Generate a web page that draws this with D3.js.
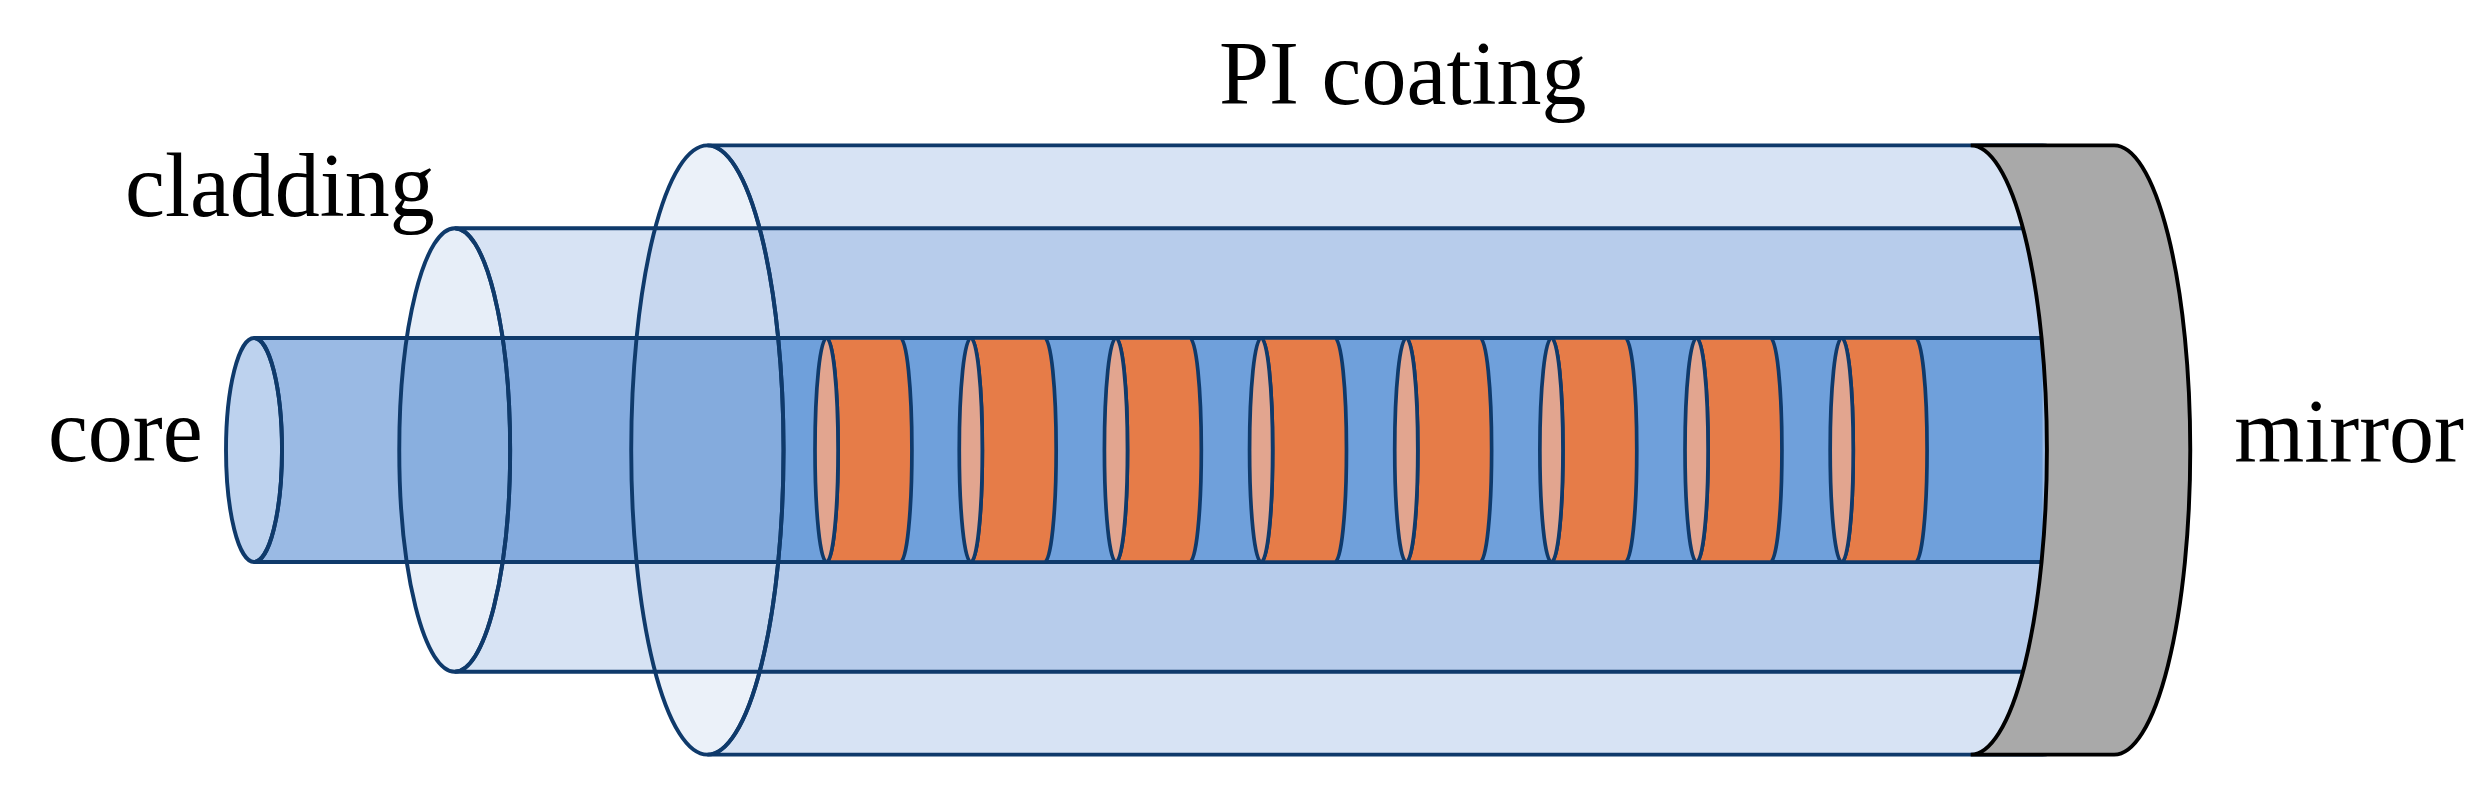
<!DOCTYPE html>
<html>
<head>
<meta charset="utf-8">
<title>Fiber cross section</title>
<script src="https://cdn.jsdelivr.net/npm/d3@7"></script>
<style>
  html, body { margin: 0; padding: 0; background: #fff; }
  svg { display: block; }
  text { font-family: "Liberation Serif", serif; font-size: 90px; fill: #000; }
</style>
</head>
<body>
<div id="chart"></div>
<script>
// axial positions run 0-100 along the fibre, radii are in core radii
var layerNames = ['core', 'cladding', 'coating'],
    layerStart = [0, 11.2, 25.3],
    layerRadius = [1, 1.98, 2.72],
    gratingStart = [31.95, 40, 48.1, 56.2, 64.3, 72.4, 80.5, 88.6],
    gratingLength = [4.12, 4.12, 4.12, 4.12, 4.12, 4.12, 4.12, 4.12],
    mirrorStart = [95.8],
    mirrorEnd = [103.8],
    labelText = ['core', 'cladding', 'PI coating', 'mirror'],
    labelAxial = [-11.5, -7.2, 53.85, 110.5],
    labelRadial = [-0.1, 2.09, 3.09, -0.11];

var width = 2491,
    height = 797,
    tilt = 0.25,         // ellipse width / height of the cut faces
    gratingTilt = 0.103,
    navy = '#0f3a6b',
    layerColor = 'rgb(55,115,200)',
    xScale = d3.scaleLinear().domain([0, 100]).range([254, 2046]),
    yScale = d3.scaleLinear().domain([-1, 1]).range([562, 338]);

var bodyAlpha = {cladding: 0.2, coating: 0.2},
    faceAlpha = {cladding: 0.12, coating: 0.1},
    // what each layer looks like where it passes over the core
    coreBody = {core: '#9abae4', cladding: '#84abde', coating: '#6fa0db'},
    coreFace = {core: '#bdd2ee', cladding: '#89afdf', coating: '#84abdd'};

var layers = layerNames.map(function(name, i) {
  return {name: name, start: layerStart[i], r: layerRadius[i]};
});
var gratings = gratingStart.map(function(s, i) {
  return {start: s, len: gratingLength[i]};
});

var svg = d3.select('#chart').append('svg')
    .attr('width', width)
    .attr('height', height);

// half height of a cut face, in pixels
function ry(r) { return yScale(0) - yScale(r); }

// side of a can: from the top of its face to the end, back under the face
function canPath(start, end, r, tiltAmount) {
  var x0 = xScale(start), x1 = xScale(end),
      a = ry(r) * tiltAmount, b = ry(r),
      top = yScale(r), bot = yScale(-r);
  return 'M' + x0 + ',' + top + 'H' + x1 +
         'A' + a + ',' + b + ' 0 0 1 ' + x1 + ',' + bot +
         'H' + x0 +
         'A' + a + ',' + b + ' 0 0 0 ' + x0 + ',' + top + 'Z';
}

function layerEnd() { return mirrorStart[0] + 4; }

function appendFace(sel, d) {
  return sel.append('ellipse')
      .attr('cx', xScale(d.start))
      .attr('cy', yScale(0))
      .attr('rx', ry(d.r) * tilt)
      .attr('ry', ry(d.r));
}

svg.append('clipPath')
    .attr('id', 'core-clip')
  .append('rect')
    .attr('x', xScale(0))
    .attr('y', yScale(1))
    .attr('width', xScale(layerEnd()) - xScale(0))
    .attr('height', ry(1) * 2);

// the two outer layers on white
var fills = svg.append('g');

layers.slice(1).forEach(function(d) {
  fills.append('path')
      .attr('d', canPath(d.start, layerEnd(), d.r, tilt))
      .attr('fill', layerColor)
      .attr('fill-opacity', bodyAlpha[d.name]);
  appendFace(fills, d)
      .attr('fill', layerColor)
      .attr('fill-opacity', faceAlpha[d.name]);
});

// the core with its overlaps, cut off at the core's outline
var coreFills = svg.append('g');

coreFills.append('path')
    .attr('d', canPath(layers[0].start, layerEnd(), layers[0].r, tilt))
    .attr('fill', coreBody.core);
appendFace(coreFills, layers[0])
    .attr('fill', coreFace.core);

var overlaps = coreFills.append('g')
    .attr('clip-path', 'url(#core-clip)');

layers.slice(1).forEach(function(d) {
  overlaps.append('path')
      .attr('d', canPath(d.start, layerEnd(), d.r, tilt))
      .attr('fill', coreBody[d.name]);
  appendFace(overlaps, d)
      .attr('fill', coreFace[d.name]);
});

// outlines go on top of all the fills
var lines = svg.append('g')
    .attr('fill', 'none')
    .attr('stroke', navy)
    .attr('stroke-width', 3.9);

lines.selectAll('path')
  .data(layers)
  .enter().append('path')
    .attr('d', function(d) { return canPath(d.start, layerEnd(), d.r, tilt); });

lines.selectAll('ellipse')
  .data(layers)
  .enter().append('ellipse')
    .attr('cx', function(d) { return xScale(d.start); })
    .attr('cy', yScale(0))
    .attr('rx', function(d) { return ry(d.r) * tilt; })
    .attr('ry', function(d) { return ry(d.r); });

var grating = svg.append('g').selectAll('g')
  .data(gratings)
  .enter().append('g')
    .attr('stroke', navy)
    .attr('stroke-width', 3.7);

grating.append('path')
    .attr('d', function(d) { return canPath(d.start, d.start + d.len, 1, gratingTilt); })
    .attr('fill', '#e67c48');

grating.append('ellipse')
    .attr('cx', function(d) { return xScale(d.start); })
    .attr('cy', yScale(0))
    .attr('rx', ry(1) * gratingTilt)
    .attr('ry', ry(1))
    .attr('fill', '#e2a58f');

// mirror sits last, it hides the far ends of all the layers
svg.append('path')
    .attr('d', canPath(mirrorStart[0], mirrorEnd[0], layerRadius[2], tilt))
    .attr('fill', '#a9a9a9')
    .attr('stroke', '#000')
    .attr('stroke-width', 3.9);

svg.append('g').selectAll('text')
  .data(labelText)
  .enter().append('text')
    .attr('x', function(d, i) { return xScale(labelAxial[i]); })
    .attr('y', function(d, i) { return yScale(labelRadial[i]); })
    .text(function(d) { return d; });
</script>
</body>
</html>
